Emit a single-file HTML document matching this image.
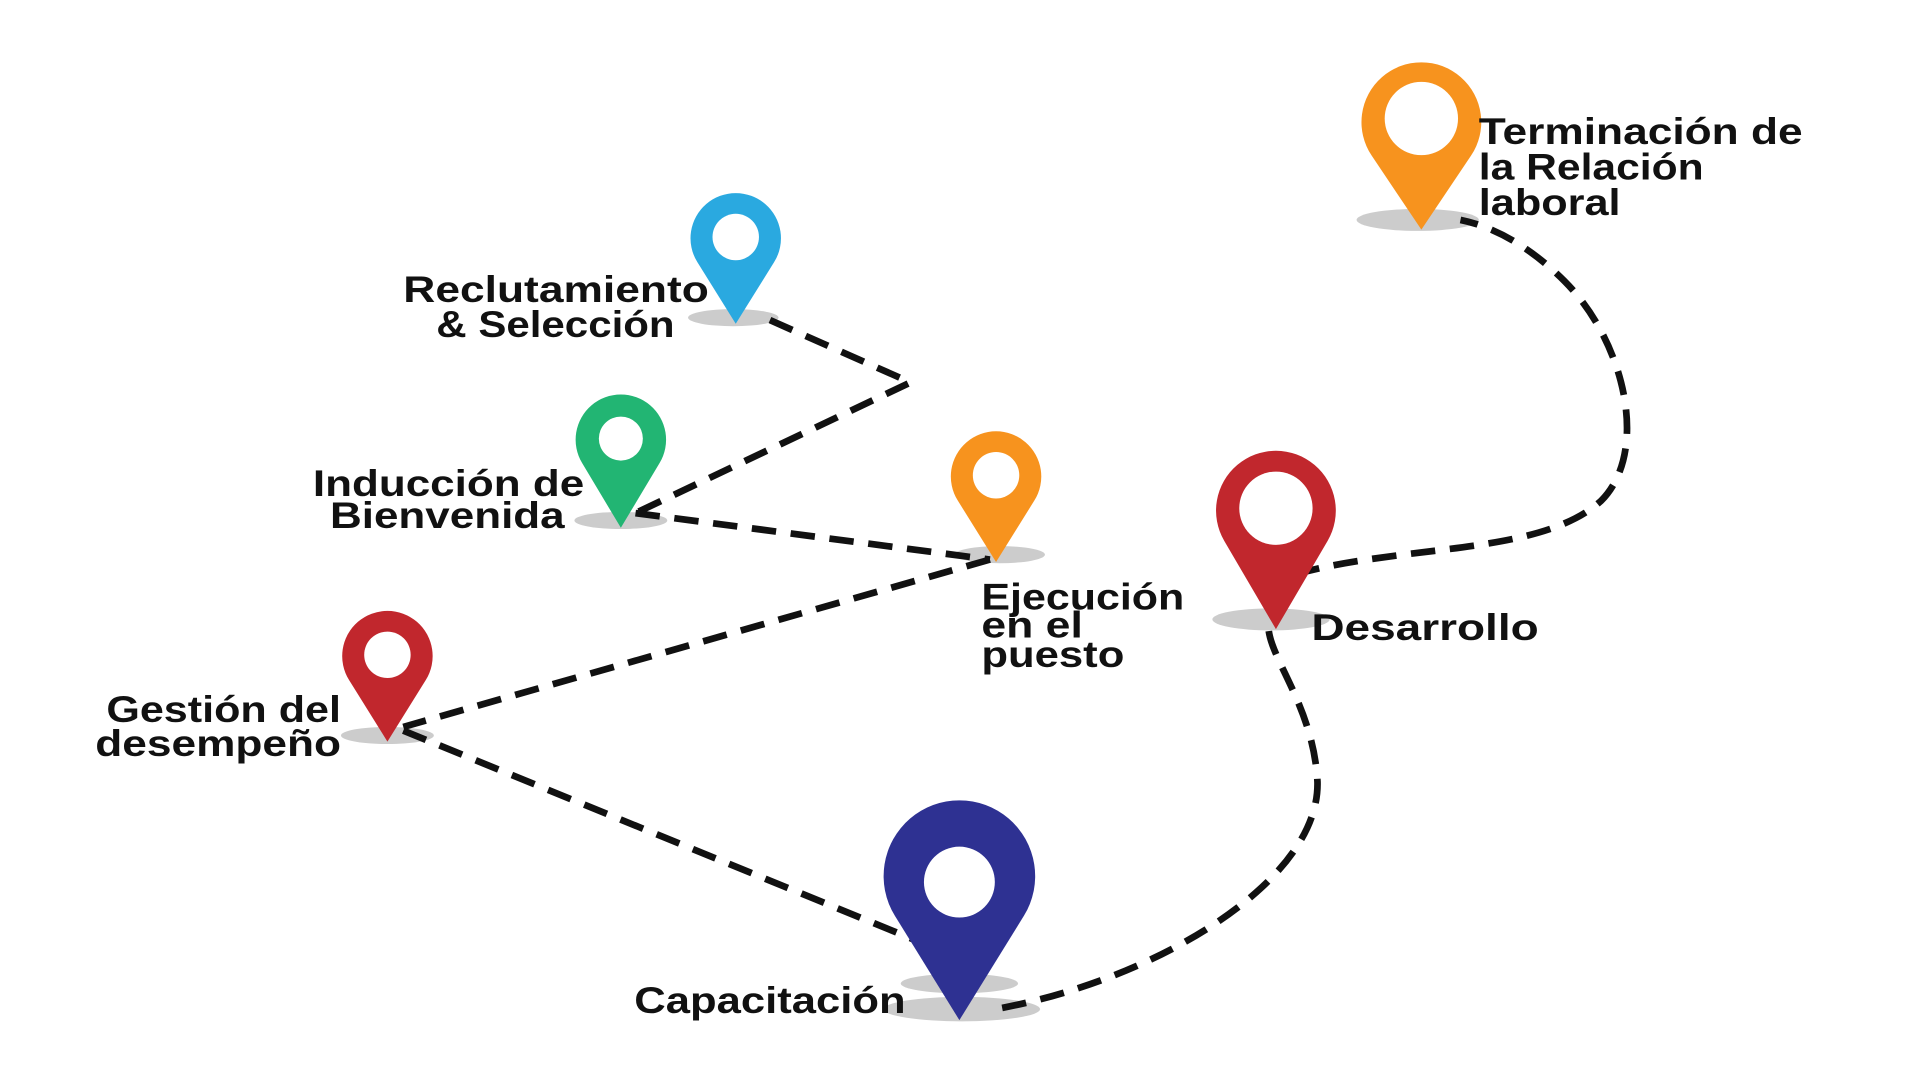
<!DOCTYPE html>
<html><head><meta charset="utf-8"><style>html,body{margin:0;padding:0;background:#fff;width:1920px;height:1080px;overflow:hidden}svg{display:block}text{font-family:"Liberation Sans",sans-serif;font-weight:bold;font-size:30px;fill:#111}</style></head><body>
<svg width="1920" height="1080" viewBox="0 0 1571 884" preserveAspectRatio="none">
<g fill="#cccccc">
<ellipse cx="1160" cy="180" rx="50" ry="9"/>
<ellipse cx="600" cy="260" rx="37" ry="7"/>
<ellipse cx="508" cy="426" rx="38" ry="7"/>
<ellipse cx="818" cy="454" rx="37" ry="7"/>
<ellipse cx="1040" cy="507" rx="48" ry="9"/>
<ellipse cx="317" cy="602" rx="38" ry="7"/>
<ellipse cx="785" cy="805" rx="48" ry="8"/>
<ellipse cx="787" cy="826" rx="64" ry="10"/>
</g>
<g fill="none" stroke="#111" stroke-width="5.5" stroke-dasharray="20 12">
<path d="M630 262 L745 313 L520 420"/>
<path d="M520 420 L810 458"/>
<path d="M810 458 L330 595"/>
<path d="M330 598 L755 772"/>
<path d="M820 825 C950 800 1080 720 1078 640 C1075 580 1040 540 1038 515"/>
<path d="M1060 470 C1150 445 1260 455 1310 410 C1350 370 1330 280 1280 230 C1250 200 1220 185 1195 180"/>
</g>
<path d="M1163 188 L1122.3 127.3 A49 49 0 1 1 1203.7 127.3 Z" fill="#f7931e"/><circle cx="1163" cy="97" r="30" fill="#fff"/>
<path d="M602 265 L570.6 214.6 A37 37 0 1 1 633.4 214.6 Z" fill="#2aa9e0"/><circle cx="602" cy="194" r="19" fill="#fff"/>
<path d="M508 432 L476.3 379 A37 37 0 1 1 539.7 379 Z" fill="#22b573"/><circle cx="508" cy="359" r="18" fill="#fff"/>
<path d="M815 460 L783.6 409.6 A37 37 0 1 1 846.4 409.6 Z" fill="#f7931e"/><circle cx="815" cy="389" r="19" fill="#fff"/>
<path d="M1044 515 L1001.7 442.7 A49 49 0 1 1 1086.3 442.7 Z" fill="#c1272d"/><circle cx="1044" cy="416" r="30" fill="#fff"/>
<path d="M317 607 L285.6 556.6 A37 37 0 1 1 348.4 556.6 Z" fill="#c1272d"/><circle cx="317" cy="536" r="19" fill="#fff"/>
<path d="M785 835 L732.2 749.6 A62 62 0 1 1 837.8 749.6 Z" fill="#2e3192"/><circle cx="785" cy="722" r="29" fill="#fff"/>
<text x="1210" y="118" textLength="265" lengthAdjust="spacingAndGlyphs">Terminación de</text>
<text x="1210" y="147" textLength="184" lengthAdjust="spacingAndGlyphs">la Relación</text>
<text x="1210" y="176" textLength="116" lengthAdjust="spacingAndGlyphs">laboral</text>
<text x="330" y="247" textLength="250" lengthAdjust="spacingAndGlyphs">Reclutamiento</text>
<text x="357" y="276" textLength="195" lengthAdjust="spacingAndGlyphs">&amp; Selección</text>
<text x="256" y="406" textLength="222" lengthAdjust="spacingAndGlyphs">Inducción de</text>
<text x="270" y="432" textLength="192" lengthAdjust="spacingAndGlyphs">Bienvenida</text>
<text x="803" y="499" textLength="166" lengthAdjust="spacingAndGlyphs">Ejecución</text>
<text x="803" y="522" textLength="83" lengthAdjust="spacingAndGlyphs">en el</text>
<text x="803" y="546" textLength="117" lengthAdjust="spacingAndGlyphs">puesto</text>
<text x="1073" y="524" textLength="186" lengthAdjust="spacingAndGlyphs">Desarrollo</text>
<text x="87" y="591" textLength="192" lengthAdjust="spacingAndGlyphs">Gestión del</text>
<text x="78" y="619" textLength="201" lengthAdjust="spacingAndGlyphs">desempeño</text>
<text x="519" y="829" textLength="222" lengthAdjust="spacingAndGlyphs">Capacitación</text>
</svg>
</body></html>
